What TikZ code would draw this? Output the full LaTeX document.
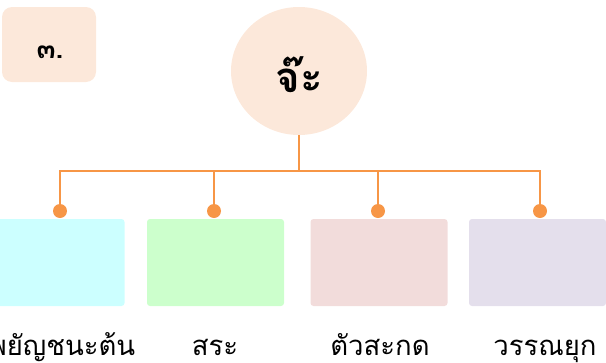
\documentclass[tikz,border=0pt]{standalone}
\usepackage{fontspec}
\usetikzlibrary{shapes.geometric}
\newfontfamily\thaifont[Script=Thai]{Loma}
\definecolor{peach}{HTML}{FCE8DA}
\definecolor{conn}{HTML}{F79646}
\definecolor{boxa}{HTML}{CCFFFF}
\definecolor{boxb}{HTML}{CCFFCC}
\definecolor{boxc}{HTML}{F2DCDB}
\definecolor{boxd}{HTML}{E4DFEC}
\tikzset{
  conline/.style={draw=conn, line width=1.8pt},
  dotnode/.style={circle, fill=conn, inner sep=0pt, minimum size=14pt},
  catbox/.style={rectangle, rounded corners=3pt, inner sep=0pt, minimum width=137pt, minimum height=87pt},
  lbl/.style={font=\thaifont\fontsize{27.5}{32}\selectfont, inner sep=0pt, anchor=base, text depth=0pt}
}
\begin{document}
\begin{tikzpicture}[x=1pt,y=-1pt]
\useasboundingbox (0,0) rectangle (606,362);
\clip (0,0) rectangle (606,362);
\node[fill=peach, rounded corners=10pt, minimum width=94pt, minimum height=75pt, inner sep=0pt] (num) at (49,44.5) {};
\node[font=\thaifont\bfseries\fontsize{28}{30}\selectfont, inner sep=0pt, anchor=base] (numtxt) at (50,58) {๓.};
\node[ellipse, fill=peach, minimum width=136pt, minimum height=128pt, inner sep=0pt] (top) at (299,71) {};
\node[font=\thaifont\bfseries\fontsize{42}{46}\selectfont, inner sep=0pt, anchor=base] (toptxt) at (299,92) {จ๊ะ};
\coordinate (j) at (299,171);
\node[catbox, fill=boxa] (b1) at (56,262.5) {};
\node[catbox, fill=boxb] (b2) at (215.5,262.5) {};
\node[catbox, fill=boxc] (b3) at (379,262.5) {};
\node[catbox, fill=boxd] (b4) at (537.5,262.5) {};
\coordinate (c1) at (60,211);
\coordinate (c2) at (214,211);
\coordinate (c3) at (378,211);
\coordinate (c4) at (540,211);
\draw[conline] (top.south) -- (j);
\draw[conline] (c1) |- (j);
\draw[conline] (c4) |- (j);
\draw[conline] (c2) -- (c2|-j);
\draw[conline] (c3) -- (c3|-j);
\node[dotnode] (d1) at (c1) {};
\node[dotnode] (d2) at (c2) {};
\node[dotnode] (d3) at (c3) {};
\node[dotnode] (d4) at (c4) {};
\node[lbl] (l1) at (62,355) {พยัญชนะต้น};
\node[lbl] (l2) at (215,355) {สระ};
\node[lbl] (l3) at (380,355) {ตัวสะกด};
\node[lbl] (l4) at (545,355) {วรรณยุก};
\end{tikzpicture}
\end{document}
